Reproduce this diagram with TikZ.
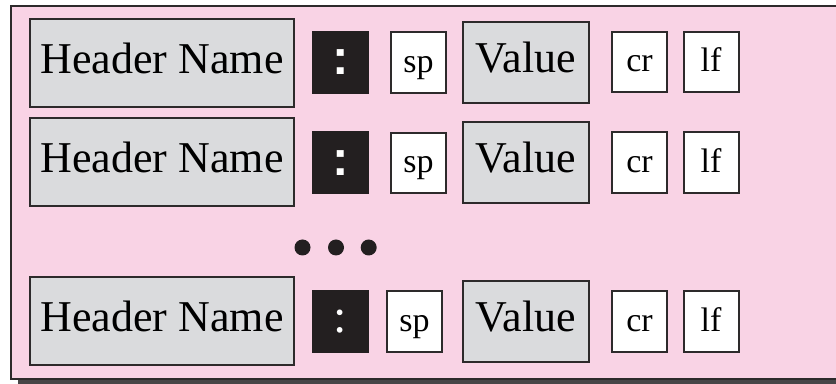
\documentclass[tikz,border=0pt]{standalone}
\usepackage{fontspec}
\setmainfont{Liberation Serif}
\newfontfamily\colonfont{Liberation Sans}
\definecolor{pinkbg}{RGB}{249,211,229}
\definecolor{fieldgray}{RGB}{218,219,221}
\definecolor{colonblack}{RGB}{35,31,32}
\definecolor{edgegray}{RGB}{45,42,43}
\definecolor{shadowgray}{RGB}{72,70,71}
\begin{document}
\begin{tikzpicture}[x=0.75pt,y=0.75pt,yscale=-1,xscale=1,
  field/.style={draw=edgegray, line width=1.5pt, fill=fieldgray, inner sep=0pt,
    font=\fontsize{33}{40}\selectfont, text height=23pt, text depth=7.5pt},
  hdrbox/.style={field, minimum width=198pt, minimum height=66pt},
  valbox/.style={field, minimum width=94.5pt, minimum height=60.75pt},
  codebox/.style={draw=edgegray, line width=1.5pt, fill=white, inner sep=0pt,
    minimum width=41.25pt, minimum height=45.5pt,
    font=\fontsize{25.5}{30}\selectfont, text height=18pt, text depth=3.5pt},
  colonbox/.style={fill=colonblack, text=white, inner sep=0pt,
    minimum width=42.75pt, minimum height=47.25pt},
  bigdot/.style={circle, fill=colonblack, inner sep=0pt, minimum size=12pt}]
\useasboundingbox (0,0) rectangle (836,384);
\clip (0,0) rectangle (836,384);

% Shadow and frame
\fill [shadowgray] (18,12) rectangle (880,390);
\draw [edgegray, line width=1.5pt, fill=pinkbg] (11,6) rectangle (870,379);

% Row 1
\node [hdrbox] (hdrA) at (162,63) {Header Name};
\node [colonbox, font=\colonfont\bfseries\fontsize{37}{44}\selectfont] (colA) at (340.5,62.5) {:};
\node [codebox] (spA) at (418.5,62.5) {sp};
\node [valbox] (valA) at (526,62.5) {Value};
\node [codebox] (crA) at (639.5,62) {cr};
\node [codebox] (lfA) at (711,62) {lf};

% Row 2
\node [hdrbox] (hdrB) at (162,162.5) {Header Name};
\node [colonbox, font=\colonfont\bfseries\fontsize{37}{44}\selectfont] (colB) at (340.5,163) {:};
\node [codebox] (spB) at (418.5,163) {sp};
\node [valbox] (valB) at (526,162.5) {Value};
\node [codebox] (crB) at (639.5,162.5) {cr};
\node [codebox] (lfB) at (711,162.5) {lf};

% Dots
\node [bigdot] (dotA) at (302.5,247.5) {};
\node [bigdot] (dotB) at (336,247.5) {};
\node [bigdot] (dotC) at (368.7,247.5) {};

% Row 3
\node [hdrbox] (hdrC) at (162,321) {Header Name};
\node [colonbox, font=\fontsize{36}{42}\selectfont] (colC) at (340.5,321.5) {:};
\node [codebox] (spC) at (414.5,321.5) {sp};
\node [valbox] (valC) at (526,321.5) {Value};
\node [codebox] (crC) at (639.5,321.5) {cr};
\node [codebox] (lfC) at (711,321.5) {lf};

\end{tikzpicture}
\end{document}
